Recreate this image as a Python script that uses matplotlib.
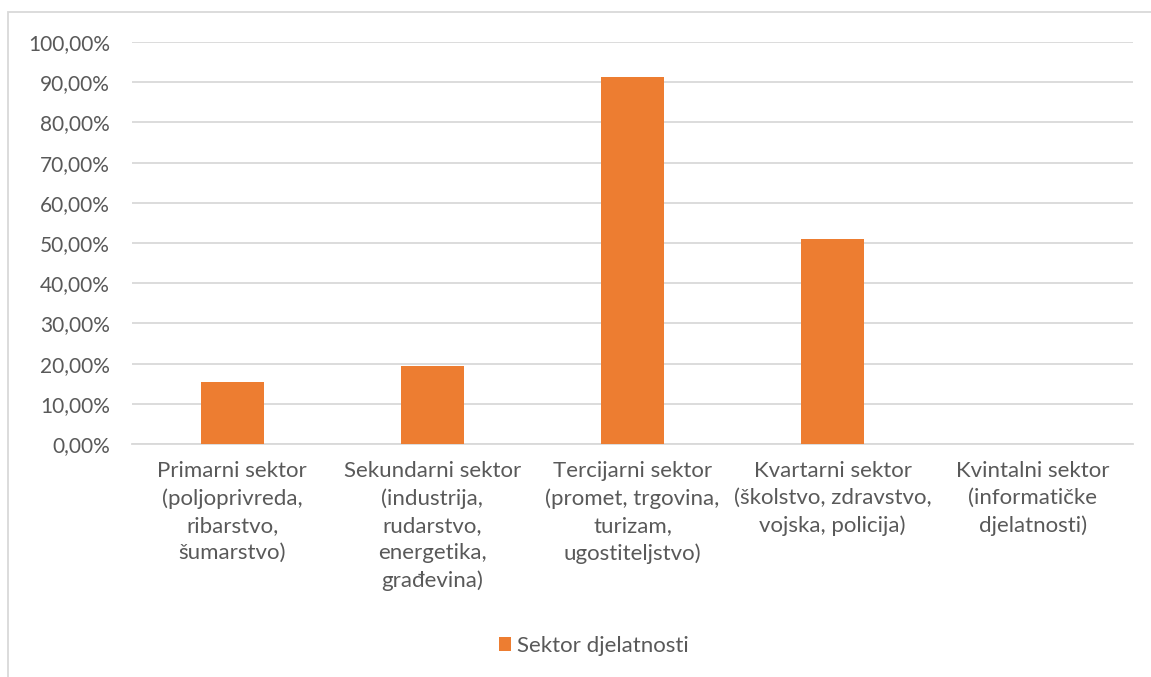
import matplotlib
matplotlib.use("Agg")
import matplotlib.pyplot as plt
from matplotlib.patches import Rectangle
from matplotlib.ticker import FuncFormatter, MultipleLocator

categories = [
    "Primarni sektor\n(poljoprivreda,\nribarstvo,\nšumarstvo)",
    "Sekundarni sektor\n(industrija,\nrudarstvo,\nenergetika,\ngrađevina)",
    "Tercijarni sektor\n(promet, trgovina,\nturizam,\nugostiteljstvo)",
    "Kvartarni sektor\n(školstvo, zdravstvo,\nvojska, policija)",
    "Kvintalni sektor\n(informatičke\ndjelatnosti)",
]
values = [15.3, 19.4, 91.2, 51.1, 0.0]
series_name = "Sektor djelatnosti"

orange = "#ED7D31"
text_gray = "#595959"
grid_gray = "#D9D9D9"

plt.rcParams["font.family"] = ["Lato", "DejaVu Sans"]

W, H = 1151, 677
fig = plt.figure(figsize=(W / 100, H / 100), dpi=100)
ax = fig.add_axes([132 / W, (H - 444) / H, (1133 - 132) / W, (444 - 42) / H])

x = range(len(categories))
ax.bar(x, values, width=0.315, color=orange, zorder=3, label=series_name)

ax.set_xlim(-0.5, len(categories) - 0.5)
ax.set_ylim(0, 100)
ax.yaxis.set_major_locator(MultipleLocator(10))
ax.yaxis.set_major_formatter(FuncFormatter(lambda v, p: f"{v:.2f}%".replace(".", ",")))
ax.grid(axis="y", color=grid_gray, linewidth=1.3, zorder=0)
ax.set_xticks(list(x))
ax.set_xticklabels(categories, linespacing=1.45)
ax.tick_params(axis="both", length=0, colors=text_gray)
ax.tick_params(axis="x", pad=12, labelsize=16)
ax.tick_params(axis="y", pad=16, labelsize=15)
for s in ["top", "right", "left"]:
    ax.spines[s].set_visible(False)
ax.spines["bottom"].set_color(grid_gray)
ax.spines["bottom"].set_linewidth(1.3)

# outer chart border
fig.patches.append(Rectangle((8 / W, -0.1), 1.2, (H - 12) / H + 0.1,
                             transform=fig.transFigure, fill=False,
                             edgecolor=grid_gray, linewidth=1.3))

fig.legend(loc="center", bbox_to_anchor=(594 / W, 1 - 646 / H), frameon=False,
           fontsize=16, labelcolor=text_gray, handlelength=0.55, handleheight=0.55,
           handletextpad=0.25)

fig.savefig("out.png", dpi=100)
